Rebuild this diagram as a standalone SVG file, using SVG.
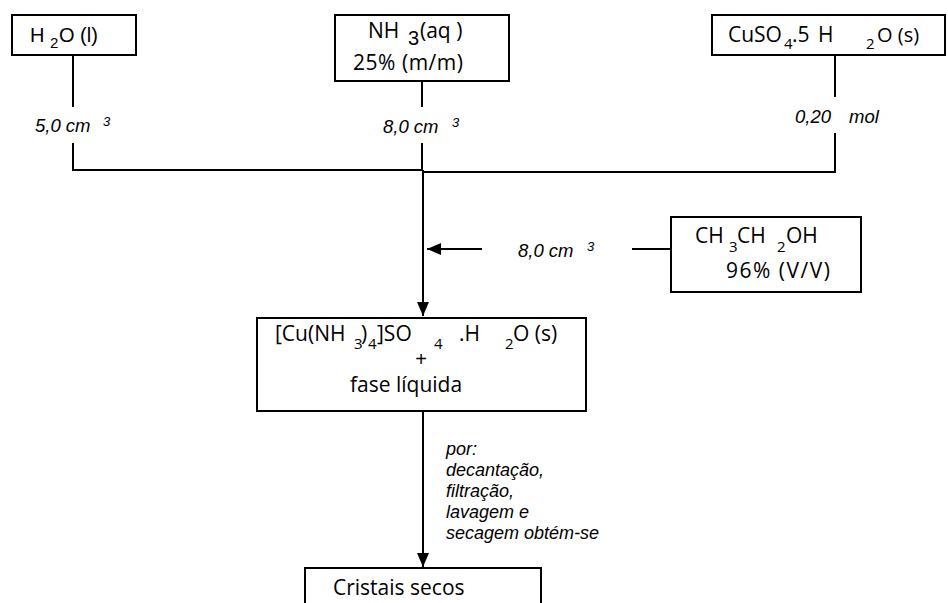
<svg xmlns="http://www.w3.org/2000/svg" width="948" height="603" viewBox="0 0 948 603">
<style>
.box{fill:#fff;stroke:#000;stroke-width:2}
.ln{fill:none;stroke:#000;stroke-width:2}
.c{font-family:"Open Sans","DejaVu Sans",sans-serif;font-size:21px;fill:#000}
.a{font-family:"Liberation Sans",Arial,sans-serif;font-size:20px;fill:#000}
.sub{font-size:15px}
.lbl{font-family:"Liberation Sans",Arial,sans-serif;font-style:italic;font-size:18.5px;fill:#000}
.sup{font-size:13px}
.it{font-family:"Liberation Sans",Arial,sans-serif;font-style:italic;font-size:18px;fill:#000}
</style>
<defs>
<marker id="arr" viewBox="0 0 14 12" refX="14" refY="6" markerWidth="14" markerHeight="12" markerUnits="userSpaceOnUse" orient="auto">
<path d="M0,0 L14,6 L0,12 z" fill="#000"/>
</marker>
</defs>
<rect width="948" height="603" fill="#fff"/>
<g id="connectors">
<path class="ln" d="M73,55 V107 M73,143 V170 H423"/>
<path class="ln" d="M422,81 V107 M422,143 V170"/>
<path class="ln" d="M835,55 V97 M835,133 V172 H423"/>
<path class="ln" d="M423,170 V316" marker-end="url(#arr)"/>
<path class="ln" d="M482,249 H427" marker-end="url(#arr)"/>
<path class="ln" d="M632,249 H671"/>
<path class="ln" d="M423,411 V567" marker-end="url(#arr)"/>
<text class="lbl" x="35" y="132">5,0 cm<tspan class="sup" x="103" y="126">3</tspan></text>
<text class="lbl" x="383" y="133">8,0 cm<tspan class="sup" x="452" y="127">3</tspan></text>
<text class="lbl" x="795" y="123">0,20<tspan x="849">mol</tspan></text>
<text class="lbl" x="518" y="257">8,0 cm<tspan class="sup" x="587" y="251">3</tspan></text>
<text class="it" x="446" y="455">por:</text>
<text class="it" x="446" y="476">decantação,</text>
<text class="it" x="446" y="497">filtração,</text>
<text class="it" x="446" y="518">lavagem e</text>
<text class="it" x="446" y="539">secagem obtém-se</text>
</g>
<g id="h2o">
<rect class="box" x="12" y="15" width="124" height="40"/>
<text class="a" x="30" y="42">H<tspan class="sub" x="50" y="48">2</tspan><tspan x="59" y="42">O (l)</tspan></text>
</g>
<g id="nh3">
<rect class="box" x="335" y="15" width="174" height="66"/>
<text class="c" x="368" y="38">NH<tspan x="420" y="38">(aq )</tspan></text>
<text class="a" x="408" y="45" font-size="13">3</text>
<text class="c" x="353" y="70" textLength="110">25% (m/m)</text>
</g>
<g id="cuso4">
<rect class="box" x="712" y="15" width="233" height="40"/>
<text class="c" x="728" y="42" font-size="19">CuSO<tspan class="sub" x="784" y="49">4</tspan><tspan x="792" y="42">.5</tspan><tspan x="818" y="42">H</tspan><tspan class="sub" x="866" y="49">2</tspan><tspan x="877" y="42" font-size="20">O (s)</tspan></text>
</g>
<g id="etanol">
<rect class="box" x="671" y="217" width="190" height="75"/>
<text class="c" x="695" y="243">CH<tspan class="sub" x="729" y="252">3</tspan><tspan x="737" y="243">CH</tspan><tspan class="sub" x="777" y="252">2</tspan><tspan x="786" y="243">OH</tspan></text>
<text class="c" x="726" y="278" textLength="104">96% (V/V)</text>
</g>
<g id="complexo">
<rect class="box" x="257" y="318" width="329" height="93"/>
<text class="c" x="275" y="341">[Cu(NH<tspan class="sub" x="354" y="349">3</tspan><tspan x="361" y="341">)</tspan><tspan class="sub" x="368" y="349">4</tspan><tspan x="377" y="341">]SO</tspan><tspan class="sub" x="434" y="349">4</tspan><tspan x="459" y="341">.H</tspan><tspan class="sub" x="505" y="349">2</tspan><tspan x="513" y="341">O (s)</tspan></text>
<text class="a" x="421" y="366" text-anchor="middle" font-size="16">+</text>
<text class="c" x="350" y="392">fase líquida</text>
</g>
<g id="cristais">
<rect class="box" x="305" y="568" width="236" height="50"/>
<text class="c" x="333" y="595">Cristais secos</text>
</g>
</svg>
